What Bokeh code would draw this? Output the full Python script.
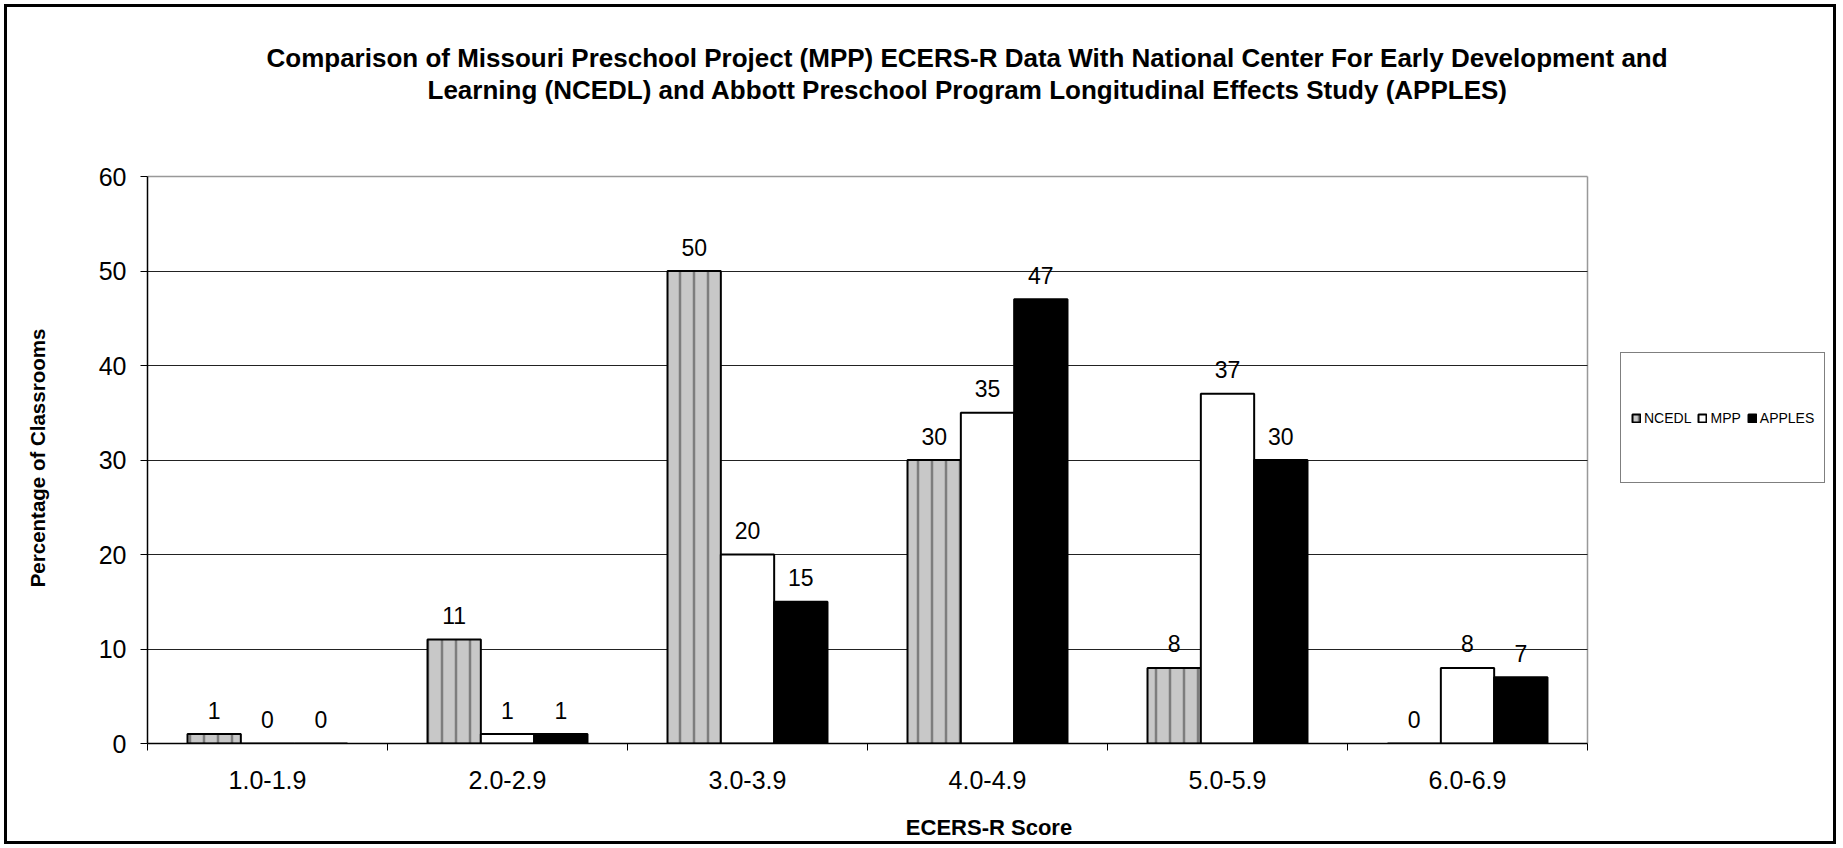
from bokeh.plotting import figure
from bokeh.models import (Range1d, FixedTicker, Title, Legend, LegendItem, ColumnDataSource, Grid)
from bokeh.transform import dodge
from bokeh.core.properties import value
from bokeh.embed import file_html
from bokeh.resources import INLINE

# ---- data ----
categories = ["1.0-1.9", "2.0-2.9", "3.0-3.9", "4.0-4.9", "5.0-5.9", "6.0-6.9"]
ncedl = [1, 11, 50, 30, 8, 0]
mpp = [0, 1, 20, 35, 37, 8]
apples = [0, 1, 15, 47, 30, 7]
series_names = ["NCEDL", "MPP", "APPLES"]
y_ticks = [0, 10, 20, 30, 40, 50, 60]

title_line1 = "Comparison of Missouri Preschool Project (MPP) ECERS-R Data With National Center For Early Development and"
title_line2 = "Learning (NCEDL) and Abbott Preschool Program Longitudinal Effects Study (APPLES)"

FONT = "Liberation Sans"
pos = list(range(1, len(categories) + 1))
series = [ncedl, mpp, apples]

data = dict(x=pos)
for name, vals in zip(series_names, series):
    data[name] = vals
    data[name + "_t"] = [str(v) for v in vals]
src = ColumnDataSource(data)

# ---- layout (pixels) ----
W, H = 1840, 848
PLOT_L, PLOT_R, PLOT_T, PLOT_B = 147, 1587, 176, 743     # plot area of the chart
FRAME_R = W - 10                                         # frame extended to hold the legend
FRAME_T = PLOT_T - 4
px_x = (PLOT_R - PLOT_L) / len(categories)
px_y = (PLOT_B - PLOT_T) / y_ticks[-1]
x_lo, x_hi = 0.5, len(categories) + 0.5
x_end = x_hi + (FRAME_R - PLOT_R) / px_x
y_end = y_ticks[-1] + (PLOT_T - FRAME_T) / px_y

p = figure(width=W, height=H, output_backend="svg", toolbar_location=None,
           x_range=Range1d(x_lo, x_end), y_range=Range1d(0, y_end),
           min_border_left=PLOT_L, min_border_right=W - FRAME_R, min_border_top=FRAME_T,
           min_border_bottom=H - PLOT_B,
           background_fill_color=None, border_fill_color=None)
# outer chart border
p.styles = {"outline": "3px solid black", "outline-offset": "-7px"}
p.outline_line_color = None

# title: spacer + two centred lines (stacked outward from the frame)
p.add_layout(Title(text=" ", text_font_size="10px", standoff=55), "above")
p.add_layout(Title(text=title_line2, align="left", offset=280, standoff=0, text_font=FONT,
                   text_font_size="26px", text_font_style="bold", text_color="black"), "above")
p.add_layout(Title(text=title_line1, align="left", offset=119, standoff=0, text_font=FONT,
                   text_font_size="26px", text_font_style="bold", text_color="black"), "above")

# grid lines and plot-area border
p.xgrid.ticker = FixedTicker(ticks=[x_hi])
p.xgrid.cross_bounds = (0, y_ticks[-1])
p.xgrid.grid_line_color = "#999999"
p.xgrid.grid_line_width = 1.5
p.ygrid.ticker = FixedTicker(ticks=y_ticks[1:-1])
p.ygrid.cross_bounds = (x_lo, x_hi)
p.ygrid.grid_line_color = "#222222"
p.ygrid.grid_line_width = 1
p.add_layout(Grid(dimension=1, ticker=FixedTicker(ticks=[y_ticks[-1]]), cross_bounds=(x_lo, x_hi),
                  grid_line_color="#999999", grid_line_width=1.5))

# axes
p.yaxis.bounds = (0, y_ticks[-1])
p.yaxis.ticker = FixedTicker(ticks=y_ticks)
p.yaxis.major_tick_out = 7
p.yaxis.major_tick_in = 0
p.yaxis.minor_tick_out = 0
p.yaxis.axis_line_color = "black"
p.yaxis.axis_line_width = 1.5
p.yaxis.major_label_text_font = FONT
p.yaxis.major_label_text_font_size = "25px"
p.yaxis.major_label_text_color = "black"
p.yaxis.major_label_standoff = 14
p.yaxis.axis_label = "Percentage of Classrooms"
p.yaxis.axis_label_text_font = FONT
p.yaxis.axis_label_text_font_size = "20.5px"
p.yaxis.axis_label_text_font_style = "bold"
p.yaxis.axis_label_text_color = "black"
p.yaxis.axis_label_standoff = 47

p.xaxis.bounds = (x_lo, x_hi)
p.xaxis.ticker = FixedTicker(ticks=pos, minor_ticks=[x - 0.5 for x in pos] + [pos[-1] + 0.5])
p.xaxis.major_label_overrides = {x: c for x, c in zip(pos, categories)}
p.xaxis.major_tick_out = 0
p.xaxis.major_tick_in = 0
p.xaxis.minor_tick_out = 7
p.xaxis.minor_tick_in = 0
p.xaxis.axis_line_color = "black"
p.xaxis.axis_line_width = 1.5
p.xaxis.major_label_text_font = FONT
p.xaxis.major_label_text_font_size = "25px"
p.xaxis.major_label_text_color = "black"
p.xaxis.major_label_standoff = 20
p.xaxis.axis_label = "ECERS-R Score"
p.xaxis.axis_label_text_font = FONT
p.xaxis.axis_label_text_font_size = "22px"
p.xaxis.axis_label_text_font_style = "bold"
p.xaxis.axis_label_text_color = "black"
p.xaxis.axis_label_standoff = 23

bar_w = 0.2222
offsets = [-bar_w, 0.0, bar_w]
styles = [
    dict(fill_color="#c8c8c8", hatch_pattern="vertical_line", hatch_color="#6a6a6a",
         hatch_weight=2.5, hatch_scale=14, hatch_alpha=0.8),
    dict(fill_color="white"),
    dict(fill_color="black"),
]

renderers = []
for name, off, st in zip(series_names, offsets, styles):
    r = p.vbar(x=dodge("x", off, range=p.x_range), top=name, width=bar_w, bottom=0,
               source=src, line_color="black", line_width=2, **st)
    renderers.append(r)
    p.text(x=dodge("x", off, range=p.x_range), y=name, text=name + "_t", source=src,
           text_align="center", text_baseline="middle", y_offset=-24,
           text_font=value(FONT), text_font_size="23px", text_color="black")

legend = Legend(items=[LegendItem(label=n, renderers=[r]) for n, r in zip(series_names, renderers)],
                orientation="horizontal", location=(1620 - PLOT_L, PLOT_B - 483),
                glyph_width=10, glyph_height=10, label_standoff=3, spacing=6, padding=10,
                label_height=109, label_text_font=FONT, label_text_font_size="14px",
                label_text_color="black", border_line_color="black", border_line_width=1,
                background_fill_color="white", background_fill_alpha=1, margin=0)
p.add_layout(legend)

open("out.html", "w").write(file_html(p, INLINE))
